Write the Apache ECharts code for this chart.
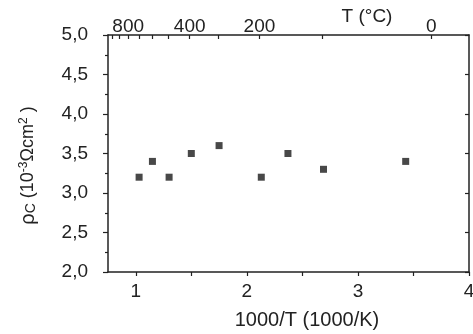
<!DOCTYPE html>
<html>
<head>
<meta charset="utf-8">
<script src="https://cdn.jsdelivr.net/npm/echarts@6/dist/echarts.min.js"></script>
<style>
  html, body { margin: 0; padding: 0; background: #fff; }
  #chart { width: 473px; height: 334px; }
</style>
</head>
<body>
<div id="chart"></div>
<script>
// 1000/T in 1000/K, contact resistivity in 10^-3 Ohm cm^2
const invT = [1.03, 1.15, 1.30, 1.50, 1.75, 2.13, 2.37, 2.69, 3.43];
const rhoC = [3.2, 3.4, 3.2, 3.5, 3.6, 3.2, 3.5, 3.3, 3.4];

const bottomTicks = [1, 1.5, 2, 2.5, 3, 3.5, 4];
const bottomLabels = [1, 2, 3, 4];
const topTicksC = [1000, 900, 800, 700, 600, 500, 400, 300, 200, 100, 0];
const topLabelsC = [800, 400, 200, 0];

const toInv = c => 1000 / (c + 273.15);
const ink = '#222';
const font = 'Liberation Sans';

const chart = echarts.init(document.getElementById('chart'));

chart.setOption({
  backgroundColor: '#fff',
  animation: false,
  textStyle: { fontFamily: font },
  grid: { left: 108, right: 4, top: 35, bottom: 62, outerBoundsMode: 'none' },
  xAxis: [
    {
      type: 'value',
      min: 0.75,
      max: 4,
      name: '1000/T (1000/K)',
      nameLocation: 'middle',
      nameGap: 38,
      nameTextStyle: { color: ink, fontSize: 20, fontFamily: font, padding: [0, 0, 0, 37] },
      axisLine: { show: true, onZero: false, lineStyle: { color: ink, width: 1.5 } },
      axisTick: { show: true, length: 4, customValues: bottomTicks, lineStyle: { color: ink, width: 1.2 } },
      axisLabel: { color: ink, fontSize: 19, margin: 10, customValues: bottomLabels },
      splitLine: { show: false }
    },
    {
      type: 'value',
      position: 'top',
      min: 0.75,
      max: 4,
      name: 'T (°C)',
      nameLocation: 'middle',
      nameGap: 9,
      nameMoveOverlap: false,
      nameTextStyle: { color: ink, fontSize: 19, fontFamily: font, padding: [0, 0, 0, 157] },
      axisLine: { show: true, onZero: false, lineStyle: { color: ink, width: 1.5 } },
      axisTick: { show: true, inside: true, length: 4, customValues: topTicksC.map(toInv), lineStyle: { color: ink, width: 1.2 } },
      axisLabel: {
        color: ink, fontSize: 19, margin: -1,
        customValues: topLabelsC.map(toInv),
        formatter: v => String(Math.round(1000 / v - 273.15))
      },
      splitLine: { show: false }
    }
  ],
  yAxis: [
    {
      type: 'value',
      min: 2,
      max: 5,
      interval: 0.5,
      name: '{r|ρ}{s|C} (10{sup|-3}Ωcm{sup|2} )',
      nameLocation: 'middle',
      nameRotate: 90,
      nameGap: 70,
      nameTextStyle: {
        color: ink, fontSize: 18, fontFamily: font, padding: [0, 24, 0, 0],
        rich: {
          r: { fontSize: 20, color: ink, fontFamily: font },
          s: { fontSize: 14, color: ink, fontFamily: font, padding: [6, 0, 0, 0] },
          sup: { fontSize: 12, color: ink, fontFamily: font, padding: [0, 0, 8, 0] }
        }
      },
      axisLine: { show: true, onZero: false, lineStyle: { color: ink, width: 1.5 } },
      axisTick: { show: true, length: 5, lineStyle: { color: ink, width: 1.2 } },
      minorTick: { show: true, splitNumber: 2, length: 3, lineStyle: { color: ink, width: 1.2 } },
      axisLabel: {
        color: ink, fontSize: 19, margin: 20,
        formatter: v => v.toFixed(1).replace('.', ',')
      },
      splitLine: { show: false }
    },
    {
      type: 'value',
      position: 'right',
      min: 2,
      max: 5,
      interval: 0.5,
      axisLine: { show: true, onZero: false, lineStyle: { color: ink, width: 1.5 } },
      axisTick: { show: true, inside: true, length: 4, lineStyle: { color: ink, width: 1.2 } },
      axisLabel: { show: false },
      splitLine: { show: false }
    }
  ],
  series: [
    {
      type: 'scatter',
      symbol: 'rect',
      symbolSize: 7,
      itemStyle: { color: '#1a1a1a' },
      data: invT.map((x, i) => [x, rhoC[i]])
    }
  ]
});
</script>
</body>
</html>
